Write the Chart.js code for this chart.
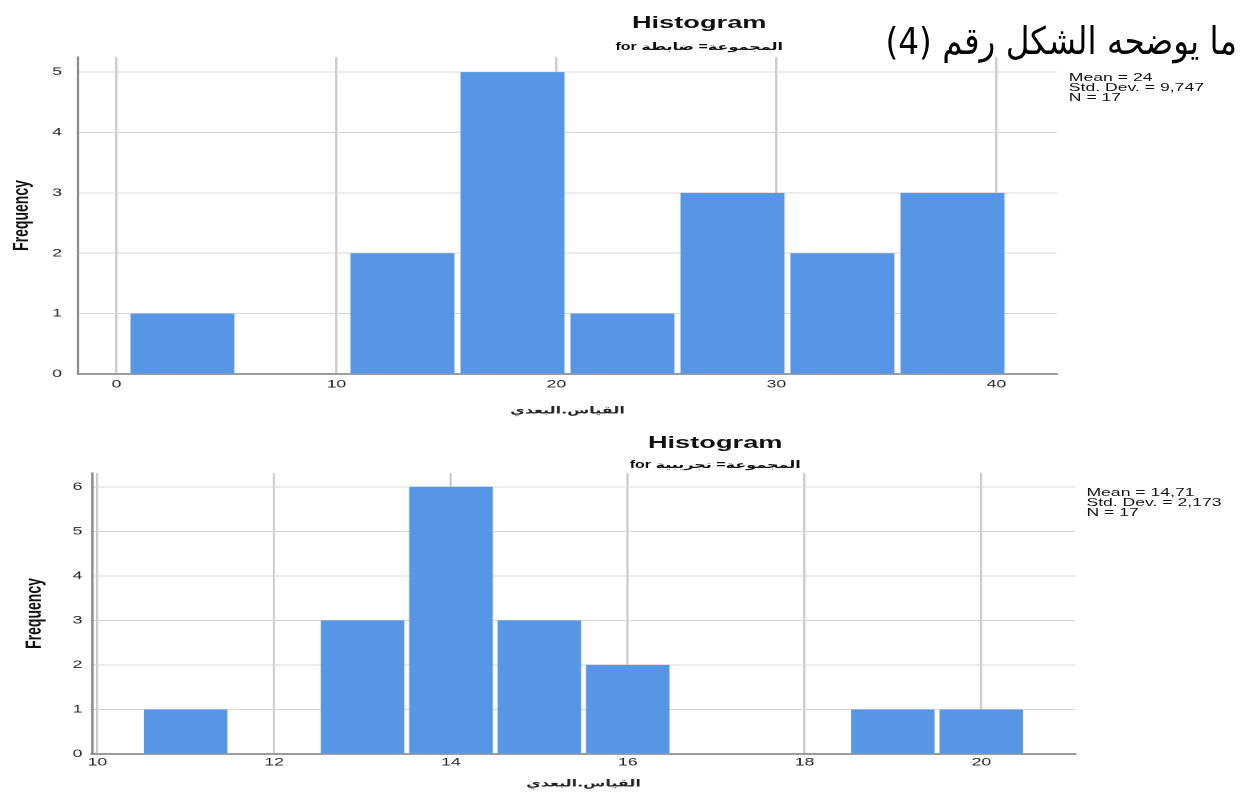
<!DOCTYPE html>
<html>
<head>
<meta charset="utf-8">
<script src="https://cdn.jsdelivr.net/npm/chart.js@4/dist/chart.umd.min.js"></script>
<style>
  html, body { margin: 0; padding: 0; background: #fff; }
  body { width: 1240px; height: 792px; position: relative; overflow: hidden; }
  #stage { position: absolute; left: 0; top: 0; width: 775px; height: 792px;
           transform: scaleX(1.6); transform-origin: 0 0; }
  canvas { position: absolute; left: 0; }
  .ttl { position: absolute; width: 300px; text-align: center; color: #111;
         font-family: "Liberation Sans", Arial, sans-serif; white-space: nowrap; }
  .main { font-size: 17px; font-weight: bold; line-height: 17px; }
  .sub { font-size: 10px; font-weight: bold; line-height: 11px;
         font-family: "Liberation Sans", "DejaVu Sans", sans-serif; }
  .stats { position: absolute; font-family: "Liberation Sans", Arial, sans-serif;
           font-size: 11px; line-height: 10px; color: #111; white-space: nowrap; }
  #head { position: absolute; right: 3px; top: 19px; direction: rtl; color: #000;
          font-family: "DejaVu Sans Condensed", "DejaVu Sans", sans-serif;
          font-size: 38px; line-height: 44px; white-space: nowrap;
          transform: scaleX(0.955); transform-origin: 100% 0; }
</style>
</head>
<body>
<div id="stage">
  <div class="ttl main" style="left:287px; top:14px;">Histogram</div>
  <div class="ttl sub" style="left:287px; top:41px;">for المجموعة= ضابطة</div>
  <div class="stats" style="left:668px; top:72px;">Mean = 24<br>Std. Dev. = 9,747<br>N = 17</div>
  <canvas id="ctrl" width="775" height="430" style="top:0;"></canvas>

  <div class="ttl main" style="left:297px; top:434px;">Histogram</div>
  <div class="ttl sub" style="left:297px; top:459px;">for المجموعة= تجريبية</div>
  <div class="stats" style="left:679px; top:487px;">Mean = 14,71<br>Std. Dev. = 2,173<br>N = 17</div>
  <canvas id="exp" width="775" height="362" style="top:430px;"></canvas>
</div>
<div id="head">ما يوضحه الشكل رقم (4)</div>

<script>
// Control group (ضابطة): bin midpoints (bin width 5) and frequencies
const ctrlCenters = [3, 8, 13, 18, 23, 28, 33, 38];
const ctrlCounts  = [1, 0, 2, 5, 1, 3, 2, 3];
const ctrlXTicks  = [0, 10, 20, 30, 40];

// Experimental group (تجريبية): bin midpoints (bin width 1) and frequencies
const expCenters = [11, 12, 13, 14, 15, 16, 17, 18, 19, 20];
const expCounts  = [1, 0, 3, 6, 3, 2, 0, 0, 1, 1];
const expXTicks  = [10, 12, 14, 16, 18, 20];

const xTitle = 'القياس.البعدي';
const yTitle = 'Frequency';

const BAR_COLOR = '#5796e4';
const TICK_FONT = { family: '"Liberation Sans", Arial, sans-serif', size: 11 };

function histogram(id, centers, counts, cfg) {
  const points = centers.map((c, i) => ({ x: c, y: counts[i] }));
  return new Chart(document.getElementById(id), {
    type: 'bar',
    data: {
      datasets: [{
        data: points,
        backgroundColor: BAR_COLOR,
        borderWidth: 0,
        categoryPercentage: 1,
        barPercentage: 0.945
      }]
    },
    options: {
      responsive: false,
      animation: false,
      devicePixelRatio: 2,
      layout: { padding: cfg.padding },
      plugins: { legend: { display: false }, tooltip: { enabled: false } },
      scales: {
        x: {
          type: 'linear',
          offset: false,
          min: cfg.xMin,
          max: cfg.xMax,
          afterBuildTicks: s => { s.ticks = cfg.xTicks.map(v => ({ value: v })); },
          afterFit: s => { s.height = cfg.xHeight; },
          ticks: { font: TICK_FONT, color: '#222', padding: cfg.xTickPad, maxRotation: 0 },
          grid: { offset: false, color: '#c9c9c9', lineWidth: 1.3, drawTicks: false },
          border: { color: '#9c9c9c', width: 2 },
          title: {
            display: true, text: xTitle, color: '#222',
            font: { family: '"DejaVu Sans", sans-serif', size: 10, weight: 'bold' },
            padding: { top: 0, bottom: cfg.xTitlePad }
          }
        },
        y: {
          min: 0,
          max: cfg.yMax,
          afterBuildTicks: s => {
            const t = [];
            for (let v = 0; v <= Math.floor(cfg.yMax); v++) t.push({ value: v });
            s.ticks = t;
          },
          afterFit: s => { s.width = cfg.yWidth; },
          ticks: { font: TICK_FONT, color: '#222', padding: cfg.yTickPad },
          grid: { color: '#d6d6d6', lineWidth: 1, drawTicks: false },
          border: { color: '#8c8c8c', width: 1.5 },
          title: {
            display: true, text: yTitle, color: '#111',
            font: { family: '"Liberation Sans", Arial, sans-serif', size: 14, weight: 'bold' },
            padding: { top: cfg.yTitlePad, bottom: 0 }
          }
        }
      }
    }
  });
}

histogram('ctrl', ctrlCenters, ctrlCounts, {
  xMin: -1.75, xMax: 42.75, xTicks: ctrlXTicks, yMax: 5.25,
  padding: { top: 57, right: 114.4, left: 0, bottom: 0 },
  xHeight: 56, yWidth: 48.75, xTickPad: 4, yTickPad: 10,
  xTitlePad: 13, yTitlePad: 5
});

histogram('exp', expCenters, expCounts, {
  xMin: 9.94, xMax: 21.06, xTicks: expXTicks, yMax: 6.31,
  padding: { top: 43, right: 103.1, left: 0, bottom: 0 },
  xHeight: 38, yWidth: 57.5, xTickPad: 2, yTickPad: 6,
  xTitlePad: 2, yTitlePad: 13
});
</script>
</body>
</html>
